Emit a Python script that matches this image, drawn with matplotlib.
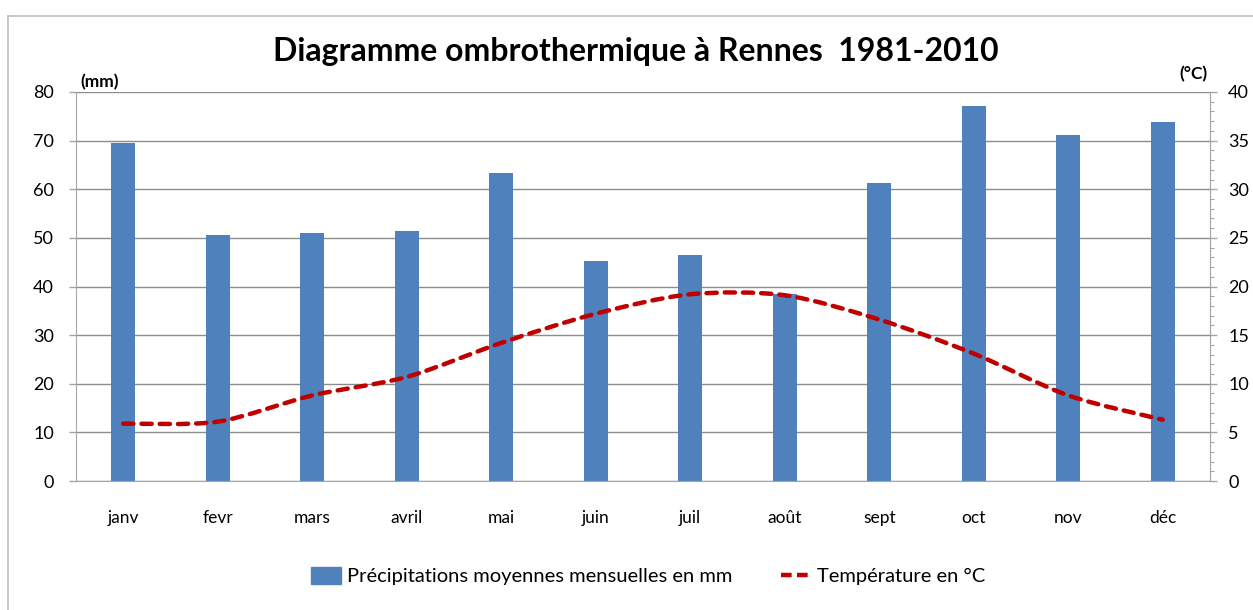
import numpy as np
import matplotlib
matplotlib.use("Agg")
import matplotlib.pyplot as plt
from matplotlib.path import Path
from matplotlib.patches import PathPatch
from matplotlib.lines import Line2D
from matplotlib.ticker import MultipleLocator

plt.rcParams['font.family'] = ['Lato', 'DejaVu Sans']

# monthly normals, Rennes 1981-2010
months = ['janv', 'fevr', 'mars', 'avril', 'mai', 'juin',
          'juil', 'août', 'sept', 'oct', 'nov', 'déc']
precip_mm = [69.6, 50.6, 51.0, 51.4, 63.3, 45.2, 46.5, 38.5, 61.3, 77.1, 71.1, 73.8]
temp_c = [5.9, 6.1, 8.8, 10.7, 14.2, 17.2, 19.2, 19.1, 16.6, 13.1, 8.8, 6.3]

bar_color = '#4F81BD'
line_color = '#C00000'
grid_color = '#8C8C8C'
spine_color = '#A6A6A6'


def smooth_path(xs, ys):
    # Excel style "smoothed line": bezier segments through each point
    pts = np.column_stack([xs, ys]).astype(float)
    n = len(pts)
    verts = [pts[0]]
    codes = [Path.MOVETO]
    for i in range(n - 1):
        p0 = pts[max(i - 1, 0)]
        p1 = pts[i]
        p2 = pts[i + 1]
        p3 = pts[min(i + 2, n - 1)]
        c1 = p1 + (p2 - p0) / 7.0
        c2 = p2 - (p3 - p1) / 7.0
        verts += [c1, c2, p2]
        codes += [Path.CURVE4] * 3
    return Path(verts, codes)


fig = plt.figure(figsize=(12.53, 6.10), dpi=100, facecolor='white')

# chart frame (only top and left edges are visible in the crop)
fig.add_artist(Line2D([8 / 1253, 8 / 1253], [0, 1 - 16 / 610], color='#BFBFBF', lw=1.2))
fig.add_artist(Line2D([8 / 1253, 1], [1 - 16 / 610, 1 - 16 / 610], color='#BFBFBF', lw=1.2))

ax = fig.add_axes([76 / 1253, 1 - 481 / 610, (1210 - 76) / 1253, (481 - 92) / 610])
x = np.arange(len(months))
ax.bar(x, precip_mm, width=0.255, color=bar_color, zorder=2)
ax.set_xlim(-0.5, len(months) - 0.5)
ax.set_ylim(0, 80)
ax.yaxis.set_major_locator(MultipleLocator(10))
ax.grid(axis='y', color=grid_color, lw=1.0, zorder=0)
ax.set_axisbelow(True)
ax.set_xticks(x)
ax.set_xticklabels(months, fontsize=12.5)
ax.tick_params(axis='x', length=0, pad=21, colors='black')
ax.tick_params(axis='y', length=5, width=1, color=spine_color, labelsize=13, pad=11)
ax.spines['top'].set_visible(False)
for side in ['left', 'bottom', 'right']:
    ax.spines[side].set_color(spine_color)

ax2 = ax.twinx()
ax2.set_ylim(0, 40)
ax2.yaxis.set_major_locator(MultipleLocator(5))
ax2.yaxis.set_minor_locator(MultipleLocator(1))
ax2.tick_params(axis='y', which='major', length=5, width=1, color=spine_color, labelsize=13, pad=8)
ax2.tick_params(axis='y', which='minor', length=3, width=0.8, color=spine_color)
for side in ['top', 'left', 'bottom']:
    ax2.spines[side].set_visible(False)
ax2.spines['right'].set_color(spine_color)

ax2.add_patch(PathPatch(smooth_path(x, temp_c), facecolor='none', edgecolor=line_color,
                        lw=3.2, linestyle=(0, (2.3, 1.8)), capstyle='round', zorder=3))

fig.text(636 / 1253, 1 - 51 / 610, 'Diagramme ombrothermique à Rennes  1981-2010',
         ha='center', va='center', fontsize=23, fontweight='bold')
fig.text(80 / 1253, 1 - 82 / 610, '(mm)', ha='left', va='center', fontsize=12.5, fontweight='bold')
fig.text(1208 / 1253, 1 - 74 / 610, '(°C)', ha='right', va='center', fontsize=12.5, fontweight='bold')

handles = [plt.Rectangle((0, 0), 1, 1, color=bar_color),
           Line2D([], [], color=line_color, lw=3.2, linestyle=(0, (2.4, 1.2)))]
labels = ['Précipitations moyennes mensuelles en mm', 'Température en °C']
fig.legend(handles, labels, loc='center', bbox_to_anchor=(648 / 1253, 1 - 576 / 610),
           ncol=2, frameon=False, fontsize=14.5, handlelength=1.5, handleheight=0.9,
           handletextpad=0.3, columnspacing=2.4)

fig.savefig('out.png', dpi=100, facecolor='white')
